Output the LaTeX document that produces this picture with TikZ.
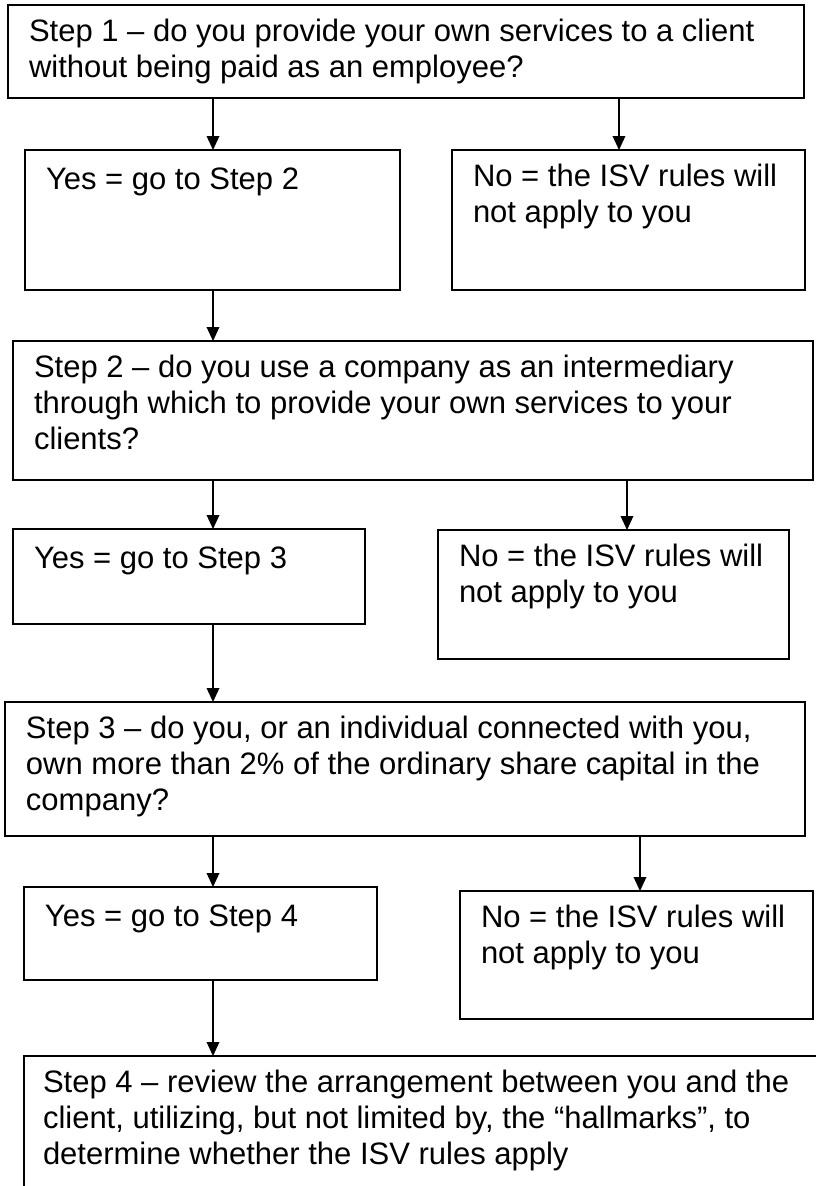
\documentclass[tikz,border=0pt]{standalone}
\usepackage{fontspec}
\setmainfont{Liberation Sans}
\usetikzlibrary{arrows.meta}
\begin{document}
\begin{tikzpicture}[x=0.75pt,y=-0.75pt,
  box/.style={draw=black,line width=1.1pt,rectangle,inner sep=0pt,outer sep=0pt,anchor=north west,fill=white},
  sz/.style 2 args={minimum width=#1*0.75pt,minimum height=#2*0.75pt},
  txt/.style={anchor=north west,inner sep=0pt,outer sep=0pt,align=left,
    font=\fontsize{23.25pt}{27pt}\selectfont,execute at begin node=\strut},
  arr/.style={line width=1pt,-{Triangle[width=9.5pt,length=10.5pt]}}]
\clip (0,0) rectangle (816,1186);
\fill[white] (0,0) rectangle (816,1186);
% x positions of the connectors
\coordinate (xL) at (213,0);
\coordinate (xR1) at (619,0);
\coordinate (xR2) at (627,0);
\coordinate (xR3) at (640,0);
% boxes
\node[box,sz={796}{93}] (s1) at (8,5) {};
\node[box,sz={375}{140}] (y1) at (25,150) {};
\node[box,sz={353}{140}] (n1) at (452,150) {};
\node[box,sz={800}{139}] (s2) at (13,341) {};
\node[box,sz={352}{95}] (y2) at (13,529) {};
\node[box,sz={351}{129}] (n2) at (438,530) {};
\node[box,sz={800}{134}] (s3) at (5,702) {};
\node[box,sz={353}{93}] (y3) at (24,887) {};
\node[box,sz={353}{128}] (n3) at (460,891) {};
\node[box,sz={830}{200}] (s4) at (24,1056) {};
% texts
\node[txt] (t1) at ([shift={(21,13.8)}]s1.north west) {Step 1 – do you provide your own services to a client\\without being paid as an employee?};
\node[txt] (ty1) at ([shift={(21,13.8)}]y1.north west) {Yes = go to Step 2};
\node[txt] (tn1) at ([shift={(21,13.8)}]n1.north west) {No = the ISV rules will\\not apply to you};
\node[txt] (t2) at ([shift={(21,13.8)}]s2.north west) {Step 2 – do you use a company as an intermediary\\through which to provide your own services to your\\clients?};
\node[txt] (ty2) at ([shift={(21,13.8)}]y2.north west) {Yes = go to Step 3};
\node[txt] (tn2) at ([shift={(21,13.8)}]n2.north west) {No = the ISV rules will\\not apply to you};
\node[txt] (t3) at ([shift={(21,13.8)}]s3.north west) {Step 3 – do you, or an individual connected with you,\\own more than 2\% of the ordinary share capital in the\\company?};
\node[txt] (ty3) at ([shift={(21,13.8)}]y3.north west) {Yes = go to Step 4};
\node[txt] (tn3) at ([shift={(21,13.8)}]n3.north west) {No = the ISV rules will\\not apply to you};
\node[txt] (t4) at ([shift={(19,13.8)}]s4.north west) {Step 4 – review the arrangement between you and the\\client, utilizing, but not limited by, the “hallmarks”, to\\determine whether the ISV rules apply};
% connectors
\draw[arr] (s1.south -| xL) -- (y1.north -| xL);
\draw[arr] (s1.south -| xR1) -- (n1.north -| xR1);
\draw[arr] (y1.south -| xL) -- (s2.north -| xL);
\draw[arr] (s2.south -| xL) -- (y2.north -| xL);
\draw[arr] (s2.south -| xR2) -- (n2.north -| xR2);
\draw[arr] (y2.south -| xL) -- (s3.north -| xL);
\draw[arr] (s3.south -| xL) -- (y3.north -| xL);
\draw[arr] (s3.south -| xR3) -- (n3.north -| xR3);
\draw[arr] (y3.south -| xL) -- (s4.north -| xL);
\end{tikzpicture}
\end{document}
